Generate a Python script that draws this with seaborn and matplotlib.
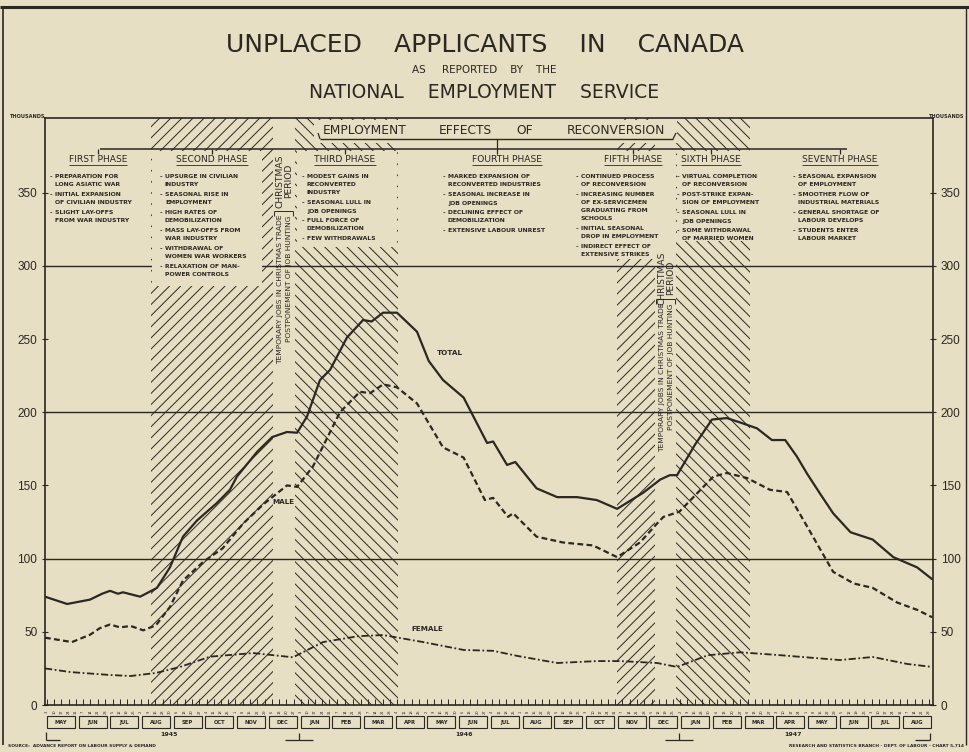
import numpy as np
import pandas as pd
import matplotlib
matplotlib.use('Agg')
import matplotlib.pyplot as plt
from matplotlib.patches import Rectangle
import seaborn as sns
import warnings
warnings.filterwarnings('ignore')

# ── Data (thousands; x = months since 1 May 1945) ────────────────────────────
total_m = [0.0, 0.7, 1.42, 1.8, 2.05, 2.3, 2.46, 3.0, 3.53, 3.94, 4.35, 4.79, 5.42,
           5.83, 6.05, 6.69, 7.16, 7.63, 7.95, 8.26, 8.67, 8.99, 9.52, 10.03, 10.3,
           10.66, 11.1, 11.73, 12.1, 12.55, 13.2, 13.94, 14.13, 14.57, 14.83, 15.5,
           16.15, 16.78, 17.4, 18.04, 18.86, 19.4, 19.7, 19.93, 20.5, 21.03, 21.5,
           21.92, 22.45, 22.92, 23.34, 23.7, 24.03, 24.45, 24.85, 25.4, 26.1, 26.75,
           27.5, 27.97]
total_v = [74, 69, 72, 76, 78, 76, 77, 74, 80, 94, 115, 126, 138,
           147, 156, 173, 183, 186.5, 186, 197, 222, 229, 251, 263, 262,
           268, 268, 255, 235, 222, 210, 179, 180, 164, 166, 148,
           142, 142, 140, 134, 145, 154, 157, 157, 178, 195, 196,
           193, 189, 181, 181, 170, 158, 144, 131, 118, 113, 101,
           94, 86]

male_m = [0.0, 0.85, 1.42, 1.73, 2.05, 2.37, 2.7, 3.1, 3.5, 3.94, 4.35, 5.0, 5.6,
          6.25, 6.88, 7.63, 7.95, 8.45, 9.3, 9.93, 10.25, 10.66, 11.1, 11.73, 12.55,
          13.2, 13.87, 14.13, 14.6, 14.76, 15.5, 16.34, 17.28, 18.04, 18.76, 19.3,
          19.5, 20.0, 21.07, 21.5, 22.14, 22.86, 23.4, 24.03, 24.85, 25.5, 26.1,
          26.87, 27.5, 27.97]
male_v = [46, 43, 48, 52.5, 55, 53, 54, 51, 54.5, 67, 85, 98, 107,
          124, 137, 150, 149, 163, 200, 214, 213, 219, 217, 206, 176,
          169, 140, 141.5, 128.5, 131, 115, 111, 109, 101, 111, 124,
          128.5, 132, 156, 158.5, 155, 147, 145.5, 122, 91, 83, 80,
          70, 65, 60]

female_m = [0.0, 0.8, 2.05, 2.7, 3.5, 4.26, 5.2, 6.56, 7.82, 8.77, 9.87, 10.66,
            11.92, 13.2, 14.13, 14.9, 16.15, 17.4, 18.13, 19.3, 19.93, 20.9, 21.92,
            23.2, 25.07, 26.1, 27.2, 27.97]
female_v = [25, 22.5, 20.5, 19.8, 21.9, 26, 33, 35.5, 32.6, 43, 47, 47.8,
            43, 37.6, 37, 33.5, 28.7, 30, 30, 28.7, 26, 34, 36,
            34, 30.7, 32.8, 28, 26]

month_names = ['MAY', 'JUN', 'JUL', 'AUG', 'SEP', 'OCT', 'NOV', 'DEC',
               'JAN', 'FEB', 'MAR', 'APR', 'MAY', 'JUN', 'JUL', 'AUG', 'SEP', 'OCT', 'NOV', 'DEC',
               'JAN', 'FEB', 'MAR', 'APR', 'MAY', 'JUN', 'JUL', 'AUG']
year_labels = ['1945', '1946', '1947']
year_pos = [3.9, 13.2, 23.6]
y_ticks = [0, 50, 100, 150, 200, 250, 300, 350]

# hatched phase spans (months) and the unhatched Christmas columns between them
hatch_spans = [(3.34, 7.19, '///'), (7.88, 11.13, '\\\\\\'),
               (18.04, 19.24, '///'), (19.9, 22.23, '\\\\\\')]

phase_titles = ['FIRST PHASE', 'SECOND PHASE', 'THIRD PHASE', 'FOURTH PHASE',
                'FIFTH PHASE', 'SIXTH PHASE', 'SEVENTH PHASE']
phase_items = [
    [['PREPARATION FOR', 'LONG ASIATIC WAR'], ['INITIAL EXPANSION', 'OF CIVILIAN INDUSTRY'],
     ['SLIGHT LAY-OFFS', 'FROM WAR INDUSTRY']],
    [['UPSURGE IN CIVILIAN', 'INDUSTRY'], ['SEASONAL RISE IN', 'EMPLOYMENT'],
     ['HIGH RATES OF', 'DEMOBILIZATION'], ['MASS LAY-OFFS FROM', 'WAR INDUSTRY'],
     ['WITHDRAWAL OF', 'WOMEN WAR WORKERS'], ['RELAXATION OF MAN-', 'POWER CONTROLS']],
    [['MODEST GAINS IN', 'RECONVERTED', 'INDUSTRY'], ['SEASONAL LULL IN', 'JOB OPENINGS'],
     ['FULL FORCE OF', 'DEMOBILIZATION'], ['FEW WITHDRAWALS']],
    [['MARKED EXPANSION OF', 'RECONVERTED INDUSTRIES'], ['SEASONAL INCREASE IN', 'JOB OPENINGS'],
     ['DECLINING EFFECT OF', 'DEMOBILIZATION'], ['EXTENSIVE LABOUR UNREST']],
    [['CONTINUED PROCESS', 'OF RECONVERSION'],
     ['INCREASING NUMBER', 'OF EX-SERVICEMEN', 'GRADUATING FROM', 'SCHOOLS'],
     ['INITIAL SEASONAL', 'DROP IN EMPLOYMENT'], ['INDIRECT EFFECT OF', 'EXTENSIVE STRIKES']],
    [['VIRTUAL COMPLETION', 'OF RECONVERSION'], ['POST-STRIKE EXPAN-', 'SION OF EMPLOYMENT'],
     ['SEASONAL LULL IN', 'JOB OPENINGS'], ['SOME WITHDRAWAL', 'OF MARRIED WOMEN']],
    [['SEASONAL EXPANSION', 'OF EMPLOYMENT'], ['SMOOTHER FLOW OF', 'INDUSTRIAL MATERIALS'],
     ['GENERAL SHORTAGE OF', 'LABOUR DEVELOPS'], ['STUDENTS ENTER', 'LABOUR MARKET']],
]

# ── Style ─────────────────────────────────────────────────────────────────────
BG = '#e6dfc3'
INK = '#2b2722'
NUMFONT = ['Liberation Sans', 'DejaVu Sans']

sns.set_theme(style='white', rc={'axes.facecolor': BG, 'figure.facecolor': BG,
                                 'hatch.linewidth': 0.7, 'hatch.color': INK})
plt.rcParams['font.family'] = ['DejaVu Sans']

W, H = 969, 752
fig = plt.figure(figsize=(W / 100, H / 100), dpi=100)
ax = fig.add_axes([45 / W, 1 - 705 / H, (933 - 45) / W, (705 - 118) / H])

# hatched phases
for a, b, h in hatch_spans:
    ax.axvspan(a, b, facecolor='none', edgecolor=INK, hatch=h, linewidth=0, zorder=1)

for v in (100, 200, 300):
    ax.axhline(v, color=INK, lw=1.0, zorder=2)

# ── Curves ────────────────────────────────────────────────────────────────────
df_total = pd.DataFrame({'month': total_m, 'thousands': total_v})
df_male = pd.DataFrame({'month': male_m, 'thousands': male_v})
df_female = pd.DataFrame({'month': female_m, 'thousands': female_v})

sns.lineplot(data=df_total, x='month', y='thousands', ax=ax, color=INK, lw=1.6, zorder=4)
sns.lineplot(data=df_male, x='month', y='thousands', ax=ax, color=INK, lw=1.6,
             linestyle=(0, (2.6, 1.5)), zorder=4)
sns.lineplot(data=df_female, x='month', y='thousands', ax=ax, color=INK, lw=1.3,
             linestyle=(0, (4.0, 1.4, 1.0, 1.4)), zorder=4)

ax.set_xlim(0, 28)
ax.set_ylim(0, 401)
ax.set_xlabel('')
ax.set_ylabel('')

# y axis both sides
ax.set_yticks(y_ticks)
ax.tick_params(axis='y', which='major', direction='inout', length=5, width=0.8, colors=INK,
               left=True, right=True, labelleft=True, labelright=True, labelsize=8.5, pad=3)
for t in ax.yaxis.get_major_ticks():
    t.label1.set_family(NUMFONT)
    t.label2.set_family(NUMFONT)

# weekly ticks (Thursdays) along the bottom
weeks = pd.date_range('1945-05-03', '1947-08-28', freq='W-THU')
week_pos = [(d.year - 1945) * 12 + d.month - 5 + (d.day - 1) / d.days_in_month for d in weeks]
ax.set_xticks([])
ax.set_xticks(week_pos, minor=True)
ax.tick_params(axis='x', which='minor', direction='in', length=4, width=0.7, colors=INK,
               bottom=True, labelbottom=False)

for s in ax.spines.values():
    s.set_color(INK)
    s.set_linewidth(1.2)

trans = ax.get_xaxis_transform()
for d, p in zip(weeks, week_pos):
    ax.text(p, -0.012, str(d.day), transform=trans, rotation=90, fontsize=2.6, color=INK,
            ha='center', va='center', clip_on=False)
for i, name in enumerate(month_names):
    ax.add_patch(Rectangle((i + 0.06, -0.0395), 0.88, 0.021, transform=trans, fill=False,
                           ec=INK, lw=0.8, clip_on=False))
    ax.text(i + 0.5, -0.029, name, transform=trans, ha='center', va='center',
            fontsize=3.8, fontweight='bold', color=INK, clip_on=False)
for lab, p in zip(year_labels, year_pos):
    ax.text(p, -0.051, lab, transform=trans, ha='center', va='center', fontsize=4.5,
            fontweight='bold', color=INK, clip_on=False)

# ── Overlay in pixel coordinates for the annotation layout ───────────────────
ov = fig.add_axes([0, 0, 1, 1], zorder=5)
ov.set_xlim(0, W)
ov.set_ylim(H, 0)
ov.axis('off')
ov.patch.set_alpha(0)

def seg(x0, y0, x1, y1, lw=0.9):
    ov.plot([x0, x1], [y0, y1], color=INK, lw=lw, solid_capstyle='butt')

# frame
seg(0, 7, W, 7, lw=2.2)
seg(3, 7, 3, 745, lw=1.2)
seg(966, 7, 966, 745, lw=1.0)

# titles
ov.text(485, 45, 'UNPLACED    APPLICANTS    IN    CANADA', ha='center', va='center',
        fontsize=18, color=INK)
ov.text(484, 70, 'AS     REPORTED    BY    THE', ha='center', va='center',
        fontsize=7.5, color=INK)
ov.text(484, 92, 'NATIONAL    EMPLOYMENT    SERVICE', ha='center', va='center',
        fontsize=13.5, color=INK)
ov.text(10, 116, 'THOUSANDS', ha='left', va='center', fontsize=3.6, fontweight='bold', color=INK)
ov.text(964, 116, 'THOUSANDS', ha='right', va='center', fontsize=3.6, fontweight='bold', color=INK)

# background patches that keep the hatching off the phase notes
for x0, y0, x1, y1 in [(314, 120, 677, 143), (152, 151, 262, 286), (297, 151, 397, 247),
                       (612, 151, 656, 259), (677, 151, 750, 241)]:
    ov.add_patch(Rectangle((x0, y0), x1 - x0, y1 - y0, facecolor=BG, edgecolor='none', zorder=1))

# header bracket
for word, xc in [('EMPLOYMENT', 365), ('EFFECTS', 465), ('OF', 525), ('RECONVERSION', 616)]:
    ov.text(xc, 130, word, ha='center', va='center', fontsize=8.8, color=INK, zorder=3)
seg(320, 139, 673, 139, lw=1.0)
seg(320, 139, 318, 133)
seg(673, 139, 676, 133)
seg(497, 139, 497, 149)
seg(100, 149, 847, 149, lw=1.1)

# phase notes
title_x = [98, 212, 345, 507, 633, 711, 840]
text_x = [50, 160, 302, 443, 576, 677, 793]
for title, items, tx, lx in zip(phase_titles, phase_items, title_x, text_x):
    tick_x = 497 if tx == 507 else tx
    seg(tick_x, 149, tick_x, 154)
    t = ov.text(tx, 159, title, ha='center', va='center', fontsize=6.6, color=INK, zorder=3)
    fig.canvas.draw()
    bb = t.get_window_extent()
    seg(bb.x0, 164.5, bb.x1, 164.5, lw=0.6)
    y = 177
    for item in items:
        for k, line in enumerate(item):
            if k == 0:
                ov.text(lx, y, '-', ha='left', va='center', fontsize=4.5, fontweight='bold',
                        color=INK, zorder=3)
            ov.text(lx + 5, y, line, ha='left', va='center', fontsize=4.4, fontweight='bold',
                    color=INK, zorder=3)
            y += 8
        y += 2

# Christmas columns
for xc, ymid, ytop in [(280, 181, 213), (662, 278, 301)]:
    ov.text(xc, ymid, 'CHRISTMAS', rotation=90, ha='center', va='center',
            fontsize=6.6, color=INK)
    ov.text(xc + 9, ymid, 'PERIOD', rotation=90, ha='center', va='center',
            fontsize=6.6, color=INK)
    ov.text(xc, ytop + 2, 'TEMPORARY JOBS IN CHRISTMAS TRADE', rotation=90,
            rotation_mode='anchor', ha='right', va='center', fontsize=5.4, color=INK)
    ov.text(xc + 9, ytop + 2, 'POSTPONEMENT OF JOB HUNTING', rotation=90,
            rotation_mode='anchor', ha='right', va='center', fontsize=5.4, color=INK)
    seg(xc - 6, ytop - 2, xc + 13, ytop - 2, lw=0.7)
    seg(xc - 6, ytop - 2, xc - 6, ytop + 3, lw=0.7)
    seg(xc + 13, ytop - 2, xc + 13, ytop + 3, lw=0.7)

# curve labels
ov.text(450, 353, 'TOTAL', ha='center', va='center', fontsize=5.2, fontweight='bold', color=INK)
ov.text(283, 502, 'MALE', ha='center', va='center', fontsize=5.2, fontweight='bold', color=INK)
ov.text(427, 629, 'FEMALE', ha='center', va='center', fontsize=5.2, fontweight='bold', color=INK)

# year brackets under the month boxes
seg(46, 732, 46, 740, lw=0.9)
seg(46, 740, 60, 740, lw=0.9)
for xc in (299, 679):
    seg(xc - 14, 740, xc + 14, 740, lw=0.9)
    seg(xc, 733, xc, 740, lw=0.9)
seg(915, 740, 930, 740, lw=0.9)
seg(930, 733, 930, 740, lw=0.9)

# footers
ov.text(8, 746, 'SOURCE:  ADVANCE REPORT ON LABOUR SUPPLY & DEMAND', ha='left', va='center',
        fontsize=3.2, fontweight='bold', color=INK)
ov.text(964, 746, 'RESEARCH AND STATISTICS BRANCH - DEPT. OF LABOUR - CHART 5,714',
        ha='right', va='center', fontsize=3.2, fontweight='bold', color=INK)

fig.savefig('out.png', dpi=100, facecolor=BG)
